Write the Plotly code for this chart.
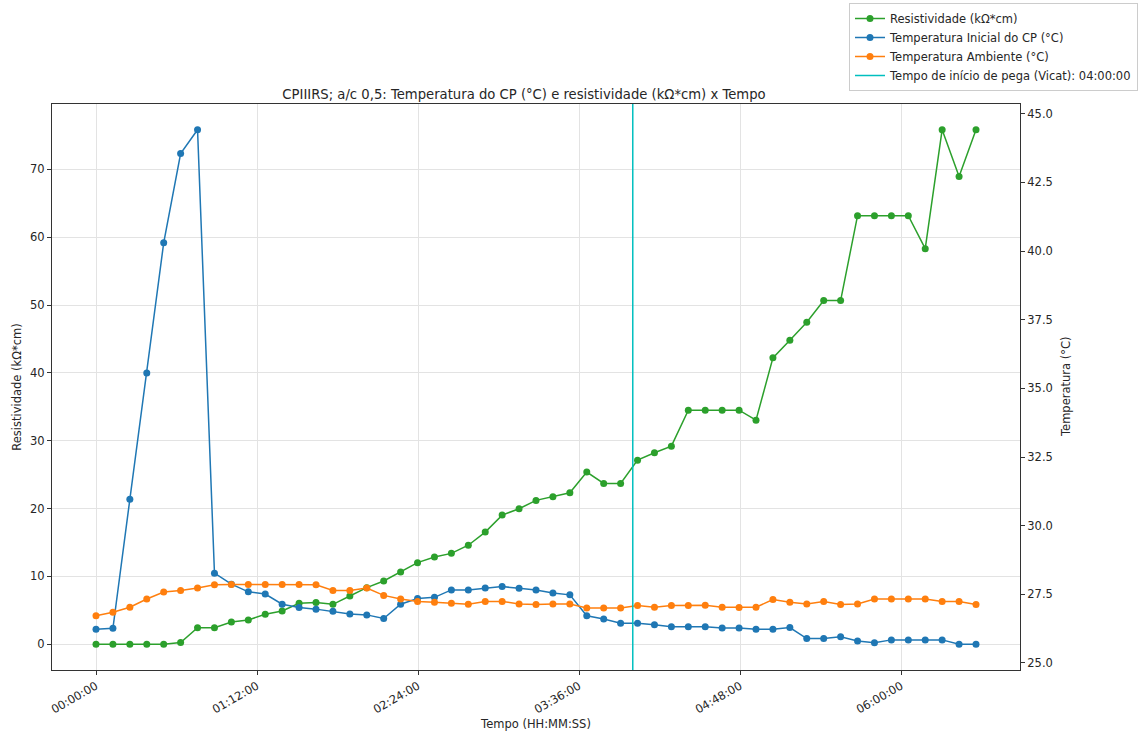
import pandas as pd
import plotly.graph_objects as go

# Measurement times (HH:MM:SS since casting)
tempo = [
    "00:00:00", "00:07:34", "00:15:08", "00:22:42", "00:30:16", "00:37:50",
    "00:45:24", "00:52:58", "01:00:32", "01:08:06", "01:15:40", "01:23:14",
    "01:30:48", "01:38:22", "01:45:56", "01:53:30", "02:01:04", "02:08:38",
    "02:16:12", "02:23:46", "02:31:20", "02:38:54", "02:46:28", "02:54:02",
    "03:01:36", "03:09:10", "03:16:44", "03:24:18", "03:31:52", "03:39:26",
    "03:47:00", "03:54:34", "04:02:08", "04:09:42", "04:17:16", "04:24:50",
    "04:32:24", "04:39:58", "04:47:32", "04:55:06", "05:02:40", "05:10:14",
    "05:17:48", "05:25:22", "05:32:56", "05:40:30", "05:48:04", "05:55:38",
    "06:03:12", "06:10:46", "06:18:20", "06:25:54", "06:33:28",
]

# Electrical resistivity (kΩ*cm)
resistividade = [
    0, 0, 0, 0, 0, 0.25, 2.45, 2.45, 3.29, 3.58, 4.42, 4.91,
    6.04, 6.14, 5.89, 7.11, 8.35, 9.33, 10.65, 12.03, 12.86, 13.40, 14.60, 16.54,
    19.04, 19.98, 21.21, 21.75, 22.34, 25.38, 23.71, 23.71, 27.14, 28.23, 29.20, 34.51,
    34.51, 34.51, 34.51, 33.03, 42.22, 44.82, 47.47, 50.66, 50.66, 63.18, 63.18, 63.18,
    63.18, 58.32, 75.85, 68.97, 75.85,
]

# Specimen temperature (°C)
temp_cp = [
    26.23, 26.26, 30.96, 35.56, 40.30, 43.55, 44.42, 28.27, 27.87, 27.59, 27.51, 27.14,
    27.02, 26.96, 26.88, 26.78, 26.75, 26.62, 27.14, 27.35, 27.39, 27.66, 27.66, 27.73,
    27.78, 27.72, 27.66, 27.55, 27.48, 26.72, 26.60, 26.45, 26.45, 26.39, 26.32, 26.32,
    26.32, 26.27, 26.27, 26.23, 26.23, 26.29, 25.89, 25.89, 25.95, 25.80, 25.74, 25.84,
    25.84, 25.84, 25.84, 25.68, 25.68,
]

# Room temperature (°C)
temp_amb = [
    26.72, 26.85, 27.03, 27.33, 27.58, 27.64, 27.73, 27.85, 27.86, 27.86, 27.86, 27.86,
    27.86, 27.85, 27.64, 27.64, 27.73, 27.46, 27.33, 27.24, 27.21, 27.17, 27.14, 27.24,
    27.24, 27.15, 27.13, 27.15, 27.15, 27.00, 27.00, 27.00, 27.09, 27.03, 27.09, 27.09,
    27.10, 27.03, 27.02, 27.03, 27.31, 27.21, 27.15, 27.24, 27.13, 27.15, 27.33, 27.33,
    27.33, 27.33, 27.24, 27.24, 27.13,
]

vicat = "04:00:00"
x_ticks = ["00:00:00", "01:12:00", "02:24:00", "03:36:00", "04:48:00", "06:00:00"]
y_left_ticks = [0, 10, 20, 30, 40, 50, 60, 70]
y_right_ticks = [25.0, 27.5, 30.0, 32.5, 35.0, 37.5, 40.0, 42.5, 45.0]

DAY = "2000-01-01 "
t = pd.to_datetime([DAY + s for s in tempo])
t_vicat = pd.Timestamp(DAY + vicat)
tick_vals = pd.to_datetime([DAY + s for s in x_ticks])


def padded(lo, hi, frac=0.05):
    span = hi - lo
    return lo - span * frac, hi + span * frac


x_lo, x_hi = padded(t[0], t[-1])
yl_lo, yl_hi = padded(min(resistividade), max(resistividade))
yr_lo, yr_hi = padded(min(temp_cp + temp_amb), max(temp_cp + temp_amb))

GREEN, BLUE, ORANGE, CYAN = "#2ca02c", "#1f77b4", "#ff7f0e", "#00bfbf"
FONT = "DejaVu Sans"
TXT = "#262626"
FS = 11.5

fig = go.Figure()
fig.add_trace(go.Scatter(
    x=t, y=resistividade, name="Resistividade (kΩ*cm)", mode="lines+markers",
    line=dict(color=GREEN, width=1.5), marker=dict(color=GREEN, size=7), yaxis="y"))
fig.add_trace(go.Scatter(
    x=t, y=temp_cp, name="Temperatura Inicial do CP (°C)", mode="lines+markers",
    line=dict(color=BLUE, width=1.5), marker=dict(color=BLUE, size=7), yaxis="y2"))
fig.add_trace(go.Scatter(
    x=t, y=temp_amb, name="Temperatura Ambiente (°C)", mode="lines+markers",
    line=dict(color=ORANGE, width=1.5), marker=dict(color=ORANGE, size=7), yaxis="y2"))
fig.add_trace(go.Scatter(
    x=[None], y=[None], name="Tempo de início de pega (Vicat): " + vicat, mode="lines",
    line=dict(color=CYAN, width=1.5), yaxis="y2"))

fig.add_shape(type="line", x0=t_vicat, x1=t_vicat, xref="x", y0=0, y1=1, yref="paper",
              line=dict(color=CYAN, width=1.5), layer="above")

# Right-hand axis title
fig.add_annotation(text="Temperatura (°C)", textangle=-90, showarrow=False,
                   xref="paper", x=1, xshift=46, yref="paper", y=0.5,
                   xanchor="center", yanchor="middle",
                   font=dict(family=FONT, size=FS, color=TXT))

fig.update_layout(
    width=1142, height=733,
    margin=dict(l=52, r=122, t=104, b=63, autoexpand=False),
    paper_bgcolor="white", plot_bgcolor="white",
    font=dict(family=FONT, size=FS, color=TXT),
    showlegend=True,
    title=dict(
        text="CPIIIRS; a/c 0,5: Temperatura do CP (°C) e resistividade (kΩ*cm) x Tempo",
        x=524 / 1142, xanchor="center", xref="container",
        y=1 - 94 / 733, yanchor="middle", yref="container",
        font=dict(family=FONT, size=13.2, color=TXT)),
    legend=dict(
        x=1 - 4 / 1142, xanchor="right", xref="container",
        y=1 - 3 / 733, yanchor="top", yref="container",
        bgcolor="white", bordercolor="#cccccc", borderwidth=1,
        font=dict(family=FONT, size=FS, color=TXT),
        tracegroupgap=0, itemwidth=30, traceorder="normal"),
    xaxis=dict(
        type="date", range=[x_lo, x_hi],
        tickvals=tick_vals, tickformat="%H:%M:%S", tickangle=-30,
        showgrid=True, gridcolor="#e3e3e3", gridwidth=1,
        showline=True, linecolor="#333333", linewidth=1, mirror=True,
        ticks="outside", ticklen=4, tickcolor="#333333",
        zeroline=False,
        title=dict(text="Tempo (HH:MM:SS)", font=dict(size=FS), standoff=4)),
    yaxis=dict(
        range=[yl_lo, yl_hi], tickvals=y_left_ticks,
        showgrid=True, gridcolor="#e3e3e3", gridwidth=1,
        showline=True, linecolor="#333333", linewidth=1, mirror=False,
        ticks="outside", ticklen=4, tickcolor="#333333",
        zeroline=False,
        title=dict(text="Resistividade (kΩ*cm)", font=dict(size=FS), standoff=6)),
    yaxis2=dict(
        range=[yr_lo, yr_hi], tickvals=y_right_ticks, tickformat=".1f",
        overlaying="y", side="right",
        showgrid=False,
        showline=True, linecolor="#333333", linewidth=1,
        ticks="outside", ticklen=4, tickcolor="#333333",
        zeroline=False),
)

fig.write_html("out.html")
